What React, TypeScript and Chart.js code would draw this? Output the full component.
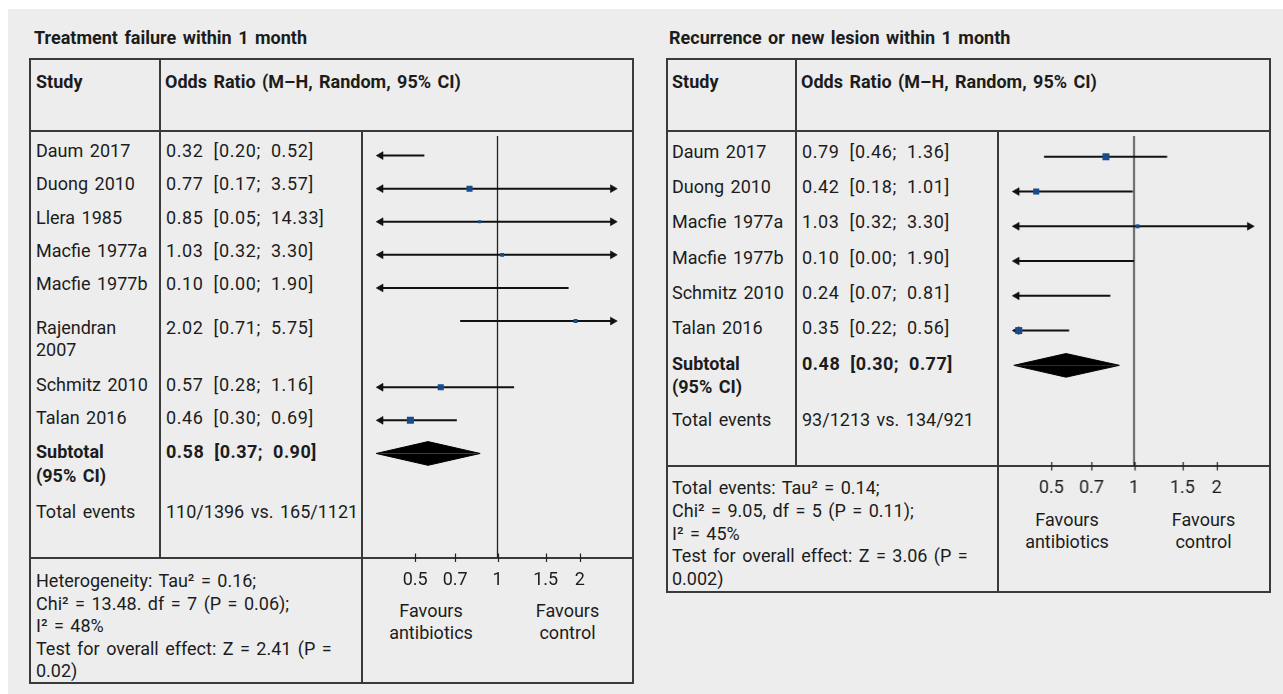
import React, { useEffect, useRef } from 'react';
import { Chart, registerables } from 'chart.js';

Chart.register(...registerables);

const FONT = 'Roboto, "Liberation Sans", sans-serif';
const TEXT = '#1c1c1c';
const LINE = '#3a3a3a';
const BLUE = '#164b8e';

// ---------- shared axis ----------
const tickValues = [0.5, 0.7, 1, 1.5, 2];
const tickLabels = ['0.5', '0.7', '1', '1.5', '2'];
const favourLabels = ['Favours\nantibiotics', 'Favours\ncontrol'];
const studyHeader = 'Study';
const orHeader = 'Odds Ratio (M\u2013H, Random, 95% CI)';

// ---------- left panel data ----------
const leftTitle = 'Treatment failure within 1 month';
const leftStudies = ['Daum 2017', 'Duong 2010', 'Llera 1985', 'Macfie 1977a', 'Macfie 1977b', 'Rajendran\n2007', 'Schmitz 2010', 'Talan 2016'];
const leftEstimates = ['0.32 [0.20; 0.52]', '0.77 [0.17; 3.57]', '0.85 [0.05; 14.33]', '1.03 [0.32; 3.30]', '0.10 [0.00; 1.90]', '2.02 [0.71; 5.75]', '0.57 [0.28; 1.16]', '0.46 [0.30; 0.69]'];
const leftOR = [0.32, 0.79, 0.86, 1.04, 0.10, 1.93, 0.62, 0.48];
const leftLo = [0.20, 0.17, 0.05, 0.32, 0.0, 0.73, 0.28, 0.30];
const leftHi = [0.54, 3.57, 14.33, 3.30, 1.82, 5.75, 1.15, 0.71];
const leftWeight = [20, 12, 3, 5, 1, 5, 12, 16];
const leftSubtotal = [0.36, 0.557, 0.864];
const leftSubtotalLabel = 'Subtotal\n(95% CI)';
const leftSubtotalText = '0.58 [0.37; 0.90]';
const leftTotalLabel = 'Total events';
const leftTotalEvents = '110/1396 vs. 165/1121';
const leftFooter = ['Heterogeneity: Tau\u00b2 = 0.16;', 'Chi\u00b2 = 13.48. df = 7 (P = 0.06);', 'I\u00b2 = 48%', 'Test for overall effect: Z = 2.41 (P =', '0.02)'];

// ---------- right panel data ----------
const rightTitle = 'Recurrence or new lesion within 1 month';
const rightStudies = ['Daum 2017', 'Duong 2010', 'Macfie 1977a', 'Macfie 1977b', 'Schmitz 2010', 'Talan 2016'];
const rightEstimates = ['0.79 [0.46; 1.36]', '0.42 [0.18; 1.01]', '1.03 [0.32; 3.30]', '0.10 [0.00; 1.90]', '0.24 [0.07; 0.81]', '0.35 [0.22; 0.56]'];
const rightOR = [0.79, 0.44, 1.03, 0.10, 0.24, 0.38];
const rightLo = [0.47, 0.18, 0.32, 0.0, 0.07, 0.22];
const rightHi = [1.32, 0.99, 3.30, 1.00, 0.82, 0.58];
const rightWeight = [16, 12, 5, 1, 8, 16];
const rightSubtotal = [0.365, 0.565, 0.884];
const rightSubtotalLabel = 'Subtotal\n(95% CI)';
const rightSubtotalText = '0.48 [0.30; 0.77]';
const rightTotalLabel = 'Total events';
const rightTotalEvents = '93/1213 vs. 134/921';
const rightFooter = ['Total events: Tau\u00b2 = 0.14;', 'Chi\u00b2 = 9.05, df = 5 (P = 0.11);', 'I\u00b2 = 45%', 'Test for overall effect: Z = 3.06 (P =', '0.002)'];

// ---------- axis / style constants ----------
const X_MIN = 1 / 3;
const X_MAX = 3;
const ARROW_LO = 0.374;
const ARROW_HI = 2.64;
const ARROW_R = 4.5;
const SQUARE_K = 1.75;
const DIAMOND_HALF_PX = 12;

type Layout = {
  x0: number; x1: number; top: number; header: number; footer: number; bottom: number;
  colA: number; colB: number; titleX: number; titleY: number;
  textA: number; textB: number;
  rowY: number[]; subY: number; subLH: number; totalY: number;
  footY: number; footLH: number; favY: number; favX: number[];
  firstOff: number; pxRow: number; canvasH: number;
};

const leftLayout: Layout = {
  x0: 30, x1: 633, top: 59, header: 131, footer: 557.5, bottom: 683,
  colA: 160, colB: 362, titleX: 34, titleY: 38, textA: 36, textB: 166,
  rowY: [151, 184.5, 218, 251.2, 284.7, 328, 385.3, 418.5], subY: 452, subLH: 24.5, totalY: 512,
  footY: 581.5, footLH: 22.5, favY: 611, favX: [431, 567.5],
  firstOff: 19.7, pxRow: 33.5, canvasH: 469,
};

const rightLayout: Layout = {
  x0: 666.5, x1: 1269.5, top: 59, header: 131, footer: 466, bottom: 591.5,
  colA: 796, colB: 998, titleX: 669, titleY: 38, textA: 672, textB: 802,
  rowY: [152, 187.3, 222.6, 257.9, 293.2, 328.5], subY: 363.8, subLH: 23, totalY: 420,
  footY: 488.5, footLH: 22.8, favY: 520, favX: [1067, 1203.5],
  firstOff: 21, pxRow: 35.3, canvasH: 379,
};

const tickMarks = {
  id: 'tickMarks',
  afterDraw(chart: any) {
    const s = chart.scales.x;
    const ctx = chart.ctx;
    const yb = chart.chartArea.bottom;
    ctx.save();
    ctx.strokeStyle = '#222';
    ctx.lineWidth = 1.2;
    tickValues.forEach((v) => {
      const x = Math.round(s.getPixelForValue(v)) + 0.5;
      ctx.beginPath();
      ctx.moveTo(x, yb - 4);
      ctx.lineTo(x, yb + 4.5);
      ctx.stroke();
    });
    ctx.restore();
  },
};

type PanelData = {
  title: string; studies: string[]; estimates: string[];
  or: number[]; lo: number[]; hi: number[]; weight: number[];
  subtotal: number[]; subtotalLabel: string; subtotalText: string;
  totalLabel: string; totalEvents: string; footer: string[];
};

function ForestChart({ D, L }: { D: PanelData; L: Layout }) {
  const ref = useRef<HTMLCanvasElement>(null);
  useEffect(() => {
    if (!ref.current) return;
    const plotH = L.footer - L.header;
    const yMin = -L.firstOff / L.pxRow;
    const yMax = yMin + plotH / L.pxRow;
    const slots: number[] = [];
    let s = 0;
    D.studies.forEach((lab) => { slots.push(s); s += lab.split('\n').length; });
    const subSlot = s;
    const dh = DIAMOND_HALF_PX / L.pxRow;

    const sq: any[] = [];
    const sqR: number[] = [];
    D.or.forEach((v, i) => {
      if (v >= ARROW_LO && v <= ARROW_HI) {
        sq.push({ x: v, y: slots[i] });
        sqR.push((Math.sqrt(D.weight[i]) * SQUARE_K) / Math.SQRT2);
      }
    });
    const ar: any[] = [];
    const rot: number[] = [];
    D.lo.forEach((v, i) => {
      if (v < ARROW_LO) { ar.push({ x: ARROW_LO, y: slots[i] }); rot.push(-90); }
      if (D.hi[i] > ARROW_HI) { ar.push({ x: ARROW_HI, y: slots[i] }); rot.push(90); }
    });

    const datasets: any[] = [];
    datasets.push({
      data: sq, showLine: false, pointStyle: 'rect', pointRadius: sqR,
      pointBackgroundColor: BLUE, pointBorderWidth: 0, pointBorderColor: BLUE, order: 0,
    });
    datasets.push({
      data: ar, showLine: false, pointStyle: 'triangle', pointRadius: ARROW_R, pointRotation: rot,
      pointBackgroundColor: '#111', pointBorderColor: '#111', pointBorderWidth: 0.6, order: 1,
    });
    D.lo.forEach((v, i) => {
      datasets.push({
        data: [{ x: Math.max(v, ARROW_LO), y: slots[i] }, { x: Math.min(D.hi[i], ARROW_HI), y: slots[i] }],
        borderColor: '#111', borderWidth: 2, pointRadius: 0, fill: false, order: 2,
      });
    });
    const [dl, dc, du] = D.subtotal;
    datasets.push({
      data: [{ x: dl, y: subSlot }, { x: dc, y: subSlot - dh }, { x: du, y: subSlot }],
      borderColor: '#000', borderWidth: 1, backgroundColor: '#000', pointRadius: 0,
      fill: { value: subSlot }, order: 2,
    });
    datasets.push({
      data: [{ x: dl, y: subSlot }, { x: dc, y: subSlot + dh }, { x: du, y: subSlot }],
      borderColor: '#000', borderWidth: 1, backgroundColor: '#000', pointRadius: 0,
      fill: { value: subSlot }, order: 2,
    });
    datasets.push({
      data: [{ x: 1, y: yMin }, { x: 1, y: yMax }],
      borderColor: '#222', borderWidth: 1.3, pointRadius: 0, fill: false, order: 3,
    });

    const chart = new Chart(ref.current, {
      type: 'line',
      data: { datasets },
      options: {
        animation: false,
        responsive: false,
        devicePixelRatio: 1,
        events: [],
        layout: { padding: 0 },
        plugins: { legend: { display: false }, tooltip: { enabled: false } },
        scales: {
          x: {
            type: 'logarithmic', min: X_MIN, max: X_MAX, bounds: 'data', position: 'bottom',
            grid: { display: false }, border: { display: false },
            ticks: {
              autoSkip: false, maxRotation: 0, minRotation: 0, padding: 4, color: TEXT,
              font: { family: FONT, size: 18 },
              callback: (_v: any, i: number) => tickLabels[i],
            },
            afterBuildTicks: (sc: any) => { sc.ticks = tickValues.map((v) => ({ value: v })); },
            afterFit: (sc: any) => { sc.height = L.canvasH - plotH; },
          } as any,
          y: { type: 'linear', display: false, reverse: true, min: yMin, max: yMax },
        },
      } as any,
      plugins: [tickMarks],
    });
    return () => chart.destroy();
  }, []);
  return (
    <canvas
      ref={ref}
      width={L.x1 - L.colB}
      height={L.canvasH}
      style={{ position: 'absolute', left: L.colB, top: L.header, width: L.x1 - L.colB, height: L.canvasH, display: 'block' }}
    />
  );
}

function Txt({ x, y, text, bold, size = 18, lh = 22.5, center, ls = 0, ws = 2 }: { x: number; y: number; text: string; bold?: boolean; size?: number; lh?: number; center?: boolean; ls?: number; ws?: number }) {
  return (
    <div
      style={{
        position: 'absolute', left: x, top: y - lh / 2, lineHeight: lh + 'px', fontSize: size,
        fontWeight: bold ? 700 : 400, whiteSpace: 'pre', textAlign: center ? 'center' : 'left',
        transform: center ? 'translateX(-50%)' : undefined, color: TEXT,
        letterSpacing: ls, wordSpacing: ws,
      }}
    >
      {text}
    </div>
  );
}

function HL({ x0, x1, y }: { x0: number; x1: number; y: number }) {
  return <div style={{ position: 'absolute', left: x0 - 1, top: y - 1, width: x1 - x0 + 2, height: 2, background: LINE }} />;
}
function VL({ x, y0, y1 }: { x: number; y0: number; y1: number }) {
  return <div style={{ position: 'absolute', left: x - 1, top: y0 - 1, width: 2, height: y1 - y0 + 2, background: LINE }} />;
}

function Panel({ D, L }: { D: PanelData; L: Layout }) {
  const hy = (L.top + L.header) / 2 - 13;
  return (
    <>
      <Txt x={L.titleX} y={L.titleY} text={D.title} bold size={18} />
      <HL x0={L.x0} x1={L.x1} y={L.top} />
      <HL x0={L.x0} x1={L.x1} y={L.header} />
      <HL x0={L.x0} x1={L.x1} y={L.footer} />
      <HL x0={L.x0} x1={L.x1} y={L.bottom} />
      <VL x={L.x0} y0={L.top} y1={L.bottom} />
      <VL x={L.x1} y0={L.top} y1={L.bottom} />
      <VL x={L.colA} y0={L.top} y1={L.footer} />
      <VL x={L.colB} y0={L.header} y1={L.bottom} />
      <Txt x={L.textA} y={hy} text={studyHeader} bold />
      <Txt x={L.textB - 1} y={hy} text={orHeader} bold />
      {D.studies.map((s, i) => (
        <Txt key={'s' + i} x={L.textA} y={L.rowY[i]} text={s} />
      ))}
      {D.estimates.map((s, i) => (
        <Txt key={'e' + i} x={L.textB} y={L.rowY[i]} text={s} ls={0.6} ws={5} />
      ))}
      <Txt x={L.textA} y={L.subY} text={D.subtotalLabel} bold lh={L.subLH} />
      <Txt x={L.textB} y={L.subY} text={D.subtotalText} bold lh={L.subLH} ls={0.5} ws={5} />
      <Txt x={L.textA} y={L.totalY} text={D.totalLabel} />
      <Txt x={L.textB} y={L.totalY} text={D.totalEvents} />
      <Txt x={L.textA} y={L.footY} text={D.footer.join('\n')} lh={L.footLH} />
      {favourLabels.map((f, i) => (
        <Txt key={'f' + i} x={L.favX[i]} y={L.favY} text={f} center lh={22.5} ws={0} />
      ))}
      <ForestChart D={D} L={L} />
    </>
  );
}

const leftData: PanelData = {
  title: leftTitle, studies: leftStudies, estimates: leftEstimates,
  or: leftOR, lo: leftLo, hi: leftHi, weight: leftWeight,
  subtotal: leftSubtotal, subtotalLabel: leftSubtotalLabel, subtotalText: leftSubtotalText,
  totalLabel: leftTotalLabel, totalEvents: leftTotalEvents, footer: leftFooter,
};
const rightData: PanelData = {
  title: rightTitle, studies: rightStudies, estimates: rightEstimates,
  or: rightOR, lo: rightLo, hi: rightHi, weight: rightWeight,
  subtotal: rightSubtotal, subtotalLabel: rightSubtotalLabel, subtotalText: rightSubtotalText,
  totalLabel: rightTotalLabel, totalEvents: rightTotalEvents, footer: rightFooter,
};

export default function App() {
  return (
    <div style={{ position: 'absolute', left: 0, top: 0, width: 1283, height: 694, overflow: 'hidden', fontFamily: FONT, color: TEXT }}>
      <div style={{ position: 'absolute', left: 8, top: 9, width: 1275, height: 685, background: '#ededed' }} />
      <Panel D={leftData} L={leftLayout} />
      <Panel D={rightData} L={rightLayout} />
    </div>
  );
}
